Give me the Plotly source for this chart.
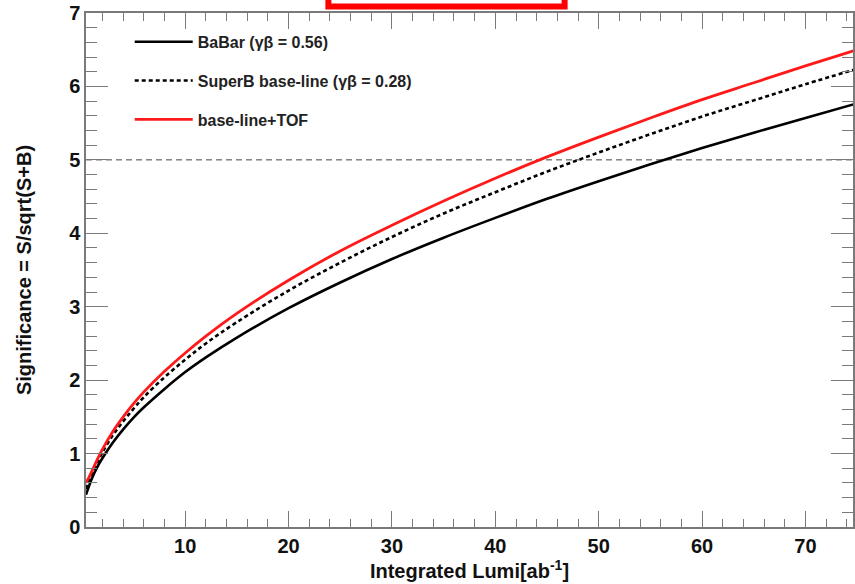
import plotly.graph_objects as go

# Integrated luminosity points (ab^-1)
lumi = [0.4, 0.7, 1, 1.5, 2, 3, 4, 5, 6, 8, 10, 12, 15, 20, 25, 30,
        35, 40, 45, 50, 55, 60, 65, 70, 75]

# Significance S/sqrt(S+B) for each configuration
babar = [0.44, 0.56, 0.67, 0.82, 0.94, 1.15, 1.33, 1.49, 1.63, 1.88, 2.11,
         2.31, 2.58, 2.98, 3.33, 3.65, 3.94, 4.21, 4.47, 4.71, 4.94, 5.16,
         5.37, 5.57, 5.77]
superb = [0.52, 0.62, 0.73, 0.88, 1.02, 1.25, 1.44, 1.61, 1.77, 2.04, 2.28,
          2.50, 2.79, 3.22, 3.60, 3.95, 4.27, 4.56, 4.84, 5.10, 5.35, 5.59,
          5.81, 6.03, 6.24]
tof = [0.60, 0.68, 0.77, 0.92, 1.06, 1.30, 1.50, 1.68, 1.84, 2.12, 2.37,
       2.60, 2.91, 3.36, 3.76, 4.11, 4.44, 4.75, 5.04, 5.31, 5.57, 5.82,
       6.05, 6.28, 6.50]

names = ["BaBar (γβ = 0.56)", "SuperB base-line (γβ = 0.28)", "base-line+TOF"]
x_ticks = [10, 20, 30, 40, 50, 60, 70]
y_ticks = [0, 1, 2, 3, 4, 5, 6, 7]
threshold = 5

FONT = "Liberation Sans, Arial, Helvetica, sans-serif"
AXIS_COL = "#7a7a7a"

fig = go.Figure()
fig.add_trace(go.Scatter(x=lumi, y=babar, mode="lines", name=names[0],
                         legendgroup="a",
                         line=dict(color="black", width=2.6, shape="spline")))
fig.add_trace(go.Scatter(x=lumi, y=superb, mode="lines", name=names[1],
                         legendgroup="b",
                         line=dict(color="black", width=2.6, dash="4px,3px",
                                   shape="spline")))
fig.add_trace(go.Scatter(x=lumi, y=tof, mode="lines", name=names[2],
                         legendgroup="c",
                         line=dict(color="#ff1a1a", width=2.8, shape="spline")))

# 5-sigma reference line
fig.add_shape(type="line", xref="paper", yref="y", x0=0, x1=1,
              y0=threshold, y1=threshold,
              line=dict(color="#444444", width=1, dash="6px,4px"), layer="below")

# red frame at the top
fig.add_shape(type="rect", xref="paper", yref="paper",
              x0=0.316, x1=0.624, y0=1.0127, y1=1.2,
              line=dict(color="#ff0000", width=6), fillcolor="white")

fig.update_layout(
    width=855, height=584,
    margin=dict(l=86, r=0, t=13, b=57),
    paper_bgcolor="white", plot_bgcolor="white",
    font=dict(family=FONT, color="#111111", size=20, weight="bold"),
    showlegend=True,
    legend=dict(x=0.057, y=0.977, xanchor="left", yanchor="top",
                bgcolor="rgba(0,0,0,0)", itemwidth=58, tracegroupgap=15,
                font=dict(family=FONT, size=16, color="#222222", weight="bold")),
    xaxis=dict(range=[0.4, 74.6], tickvals=x_ticks, ticks="inside", ticklen=16,
               tickwidth=1.3, tickcolor=AXIS_COL, showline=True,
               linecolor=AXIS_COL, linewidth=1.5, mirror="ticks",
               showgrid=False, zeroline=False,
               minor=dict(dtick=2, tick0=0, ticks="inside", ticklen=8,
                          tickcolor=AXIS_COL, tickwidth=1.3, showgrid=False),
               tickfont=dict(size=20, weight="bold"),
               title=dict(text="Integrated Lumi[ab<sup>-1</sup>]",
                          font=dict(size=20, weight="bold"), standoff=4)),
    yaxis=dict(range=[0, 7], tickvals=y_ticks, ticks="inside", ticklen=22,
               tickwidth=1.3, tickcolor=AXIS_COL, showline=True,
               linecolor=AXIS_COL, linewidth=1.5, mirror="ticks",
               showgrid=False, zeroline=False,
               minor=dict(dtick=0.2, tick0=0, ticks="inside", ticklen=11,
                          tickcolor=AXIS_COL, tickwidth=1.3, showgrid=False),
               tickfont=dict(size=20, weight="bold"),
               title=dict(text="Significance = S/sqrt(S+B)",
                          font=dict(size=20, weight="bold"), standoff=32)),
)

fig.write_html("out.html")
